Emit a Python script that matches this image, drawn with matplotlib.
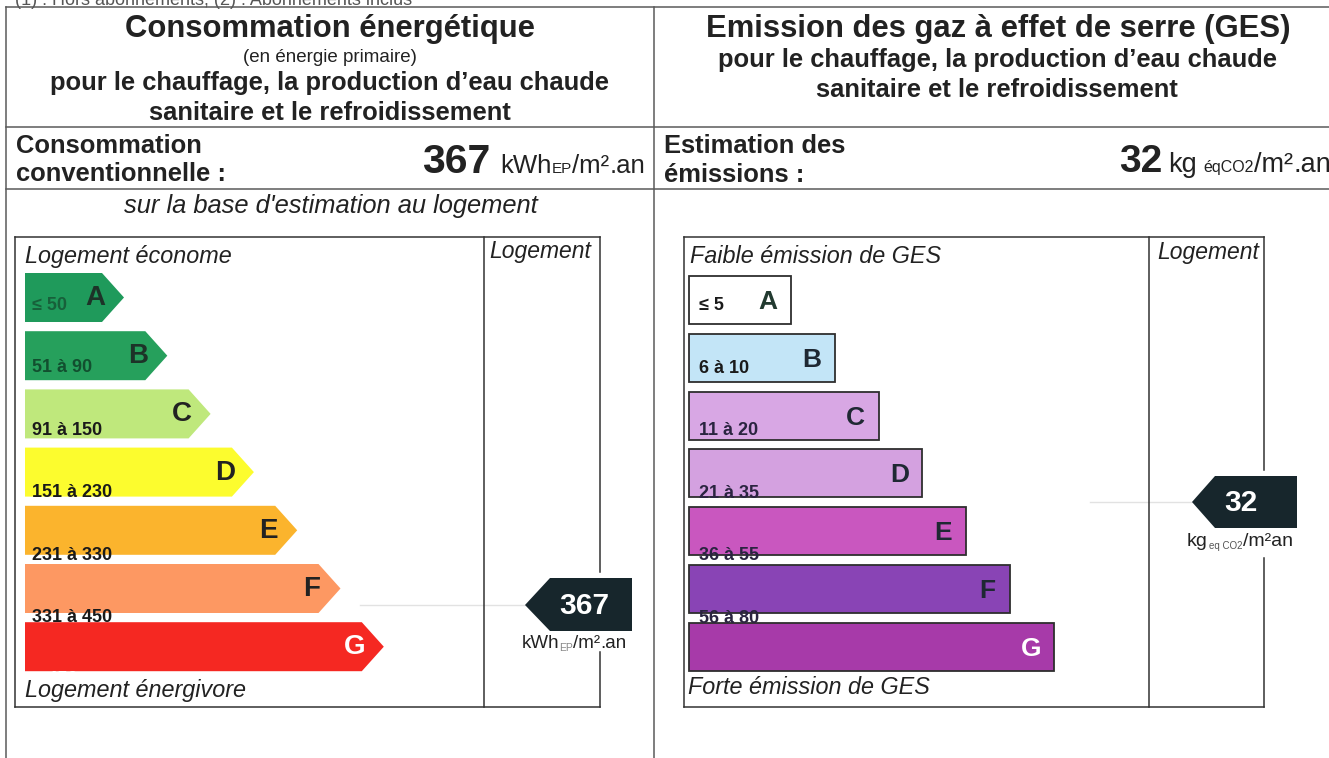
import matplotlib
matplotlib.use("Agg")
import matplotlib.pyplot as plt
from matplotlib.patches import Polygon, Rectangle

plt.rcParams['font.family'] = ['Liberation Sans', 'DejaVu Sans']

# ---------------- data ----------------
energy_classes = ['A', 'B', 'C', 'D', 'E', 'F', 'G']
energy_ranges = ['≤ 50', '51 à 90', '91 à 150', '151 à 230', '231 à 330', '331 à 450', '> 450']
energy_colors = ['#1f9a5b', '#26a05c', '#bfe87c', '#fcfc2e', '#fbb42d', '#fd9862', '#f52822']
energy_range_colors = ['#17603a', '#124f2f', '#1a1a1a', '#1a1a1a', '#1a1a1a', '#1a1a1a', '#ffffff']
energy_letter_colors = ['#1d3328', '#1d3328', '#222222', '#222222', '#222222', '#222222', '#ffffff']
energy_value = 367

ges_classes = ['A', 'B', 'C', 'D', 'E', 'F', 'G']
ges_ranges = ['≤ 5', '6 à 10', '11 à 20', '21 à 35', '36 à 55', '56 à 80', '> 80']
ges_colors = ['#ffffff', '#c3e5f7', '#d8a7e4', '#d4a1e0', '#c957bf', '#8944b5', '#a73aa9']
ges_range_colors = ['#1a1a1a', '#1a1a1a', '#2a2440', '#2a2440', '#2a2440', '#2a2440', '#ffffff']
ges_letter_colors = ['#223a30', '#1f2833', '#1f2833', '#1f2833', '#1f2833', '#1f2833', '#ffffff']
ges_value = 32

# ---------------- figure ----------------
W, H = 1329, 758
fig = plt.figure(figsize=(W / 100, H / 100), dpi=100)
ax = fig.add_axes([0, 0, 1, 1])
ax.set_xlim(0, W)
ax.set_ylim(H, 0)
ax.axis('off')
renderer = fig.canvas.get_renderer()

TXT = '#222222'
LINE = '#5a5a5a'


def chain(x, y, pieces, ha='left', zorder=4):
    """Place consecutive text pieces on one baseline."""
    texts = []
    cx = x
    for s, kw, dy, gap in pieces:
        cx += gap
        t = ax.text(cx, y + dy, s, va='baseline', ha='left', zorder=zorder, **kw)
        bb = t.get_window_extent(renderer)
        cx += bb.width
        texts.append(t)
    if ha in ('right', 'center'):
        total = cx - x
        shift = total if ha == 'right' else total / 2
        for t in texts:
            px, py = t.get_position()
            t.set_position((px - shift, py))
    return texts


# top footnote (cut off by the page edge)
ax.text(15, 5, '(1) : Hors abonnements, (2) : Abonnements inclus', fontsize=13,
        color='#555555', va='baseline')

# table lines
for y in (7, 127, 189):
    ax.plot([6, W], [y, y], color=LINE, lw=1.1)
ax.plot([6, 6], [7, H], color=LINE, lw=1.1)
ax.plot([654, 654], [7, H], color=LINE, lw=1.1)

# ---- left header
ax.text(330, 37, 'Consommation énergétique', fontsize=22.3, fontweight='bold',
        color=TXT, ha='center', va='baseline')
ax.text(330, 62, '(en énergie primaire)', fontsize=13.5, color=TXT, ha='center', va='baseline')
ax.text(330, 90, 'pour le chauffage, la production d\u2019eau chaude', fontsize=18.4,
        fontweight='bold', color=TXT, ha='center', va='baseline')
ax.text(330, 120, 'sanitaire et le refroidissement', fontsize=18.4,
        fontweight='bold', color=TXT, ha='center', va='baseline')

# ---- right header
ax.text(998, 37, 'Emission des gaz à effet de serre (GES)', fontsize=22.3, fontweight='bold',
        color=TXT, ha='center', va='baseline')
ax.text(997, 67, 'pour le chauffage, la production d\u2019eau chaude', fontsize=18.4,
        fontweight='bold', color=TXT, ha='center', va='baseline')
ax.text(997, 97, 'sanitaire et le refroidissement', fontsize=18.4,
        fontweight='bold', color=TXT, ha='center', va='baseline')

# ---- value rows
ax.text(16, 153, 'Consommation', fontsize=18.4, fontweight='bold', color=TXT, va='baseline')
ax.text(16, 181, 'conventionnelle :', fontsize=18.4, fontweight='bold', color=TXT, va='baseline')
chain(645, 173, [
    (str(energy_value), dict(fontsize=29.5, fontweight='bold', color=TXT), 0, 0),
    ('kWh', dict(fontsize=18.5, color=TXT), 0, 10),
    ('EP', dict(fontsize=11, color=TXT), 0, 0),
    ('/m²', dict(fontsize=18.5, color=TXT), 0, 0),
    ('.an', dict(fontsize=18.5, color=TXT), 0, 0),
], ha='right')
ax.text(331, 213, "sur la base d'estimation au logement", fontsize=18.4, style='italic',
        color=TXT, ha='center', va='baseline')

ax.text(664, 153, 'Estimation des', fontsize=18.4, fontweight='bold', color=TXT, va='baseline')
ax.text(664, 182, 'émissions :', fontsize=18.4, fontweight='bold', color=TXT, va='baseline')
chain(1331, 172, [
    (str(ges_value), dict(fontsize=28, fontweight='bold', color=TXT), 0, 0),
    ('kg', dict(fontsize=19.5, color=TXT), 0, 6),
    ('éqCO2', dict(fontsize=11.5, color=TXT), 0, 7),
    ('/m²', dict(fontsize=19.5, color=TXT), 0, 0),
    ('.an', dict(fontsize=19.5, color=TXT), 0, 0),
], ha='right')

BOX = '#333333'


def box(x0, x1, xd, y0, y1, gap):
    ax.plot([x0, x1], [y0, y0], color=BOX, lw=1.1)
    ax.plot([x0, x1], [y1, y1], color=BOX, lw=1.1)
    ax.plot([x0, x0], [y0, y1], color=BOX, lw=1.1)
    ax.plot([xd, xd], [y0, y1], color=BOX, lw=1.1)
    ax.plot([x1, x1], [y0, gap[0]], color=BOX, lw=1.1)
    ax.plot([x1, x1], [gap[1], y1], color=BOX, lw=1.1)


# ---------------- energy chart ----------------
box(15, 600, 484, 237, 707, (572, 652))
ax.text(25, 263, 'Logement économe', fontsize=16.8, style='italic', color=TXT, va='baseline')
ax.text(25, 697, 'Logement énergivore', fontsize=16.8, style='italic', color=TXT,
        va='baseline', zorder=6)
ax.text(489, 258, 'Logement', fontsize=16.5, style='italic', color=TXT, va='baseline')

for i, (cls, rng, col) in enumerate(zip(energy_classes, energy_ranges, energy_colors)):
    top = 273 + i * 58.2
    bot = top + 49
    body = 102 + i * 43.3
    tip = body + 22
    ax.add_patch(Polygon([(25, top), (body, top), (tip, (top + bot) / 2), (body, bot), (25, bot)],
                         closed=True, facecolor=col, edgecolor='none', zorder=2))
    ax.text(body - 7, top + 25, cls, fontsize=20, fontweight='bold', color=energy_letter_colors[i],
            ha='center', va='center', zorder=4)
    ax.text(32, top + 37 + i * 4.2, rng, fontsize=13, fontweight='bold',
            color=energy_range_colors[i], va='baseline', zorder=4)

# faint guide line + arrow
ey = 605
ax.plot([360, 525], [ey, ey], color='#e2e2e2', lw=1.0, zorder=1)
ax.add_patch(Polygon([(525, ey), (550, 578), (632, 578), (632, 631), (550, 631)],
                     closed=True, facecolor='#17262c', edgecolor='none', zorder=3))
ax.text(584, ey + 1, str(energy_value), fontsize=21.5, fontweight='bold', color='white',
        ha='center', va='center', zorder=4)
chain(522, 648, [
    ('kWh', dict(fontsize=13.5, color=TXT), 0, 0),
    ('EP', dict(fontsize=7.5, color='#888888'), 3, 0),
    ('/m²', dict(fontsize=13.5, color=TXT), 0, 0),
    ('.an', dict(fontsize=13.5, color=TXT), 0, 0),
])

# ---------------- GES chart ----------------
box(684, 1264, 1149, 237, 707, (470, 558))
ax.text(690, 263, 'Faible émission de GES', fontsize=16.8, style='italic', color=TXT, va='baseline')
ax.text(688, 694, 'Forte émission de GES', fontsize=16.8, style='italic', color=TXT,
        va='baseline', zorder=6)
ax.text(1157, 259, 'Logement', fontsize=16.5, style='italic', color=TXT, va='baseline')

for i, (cls, rng, col) in enumerate(zip(ges_classes, ges_ranges, ges_colors)):
    top = 276 + i * 57.8
    h = 48
    right = 791 + i * 43.8
    ax.add_patch(Rectangle((689, top), right - 689, h, facecolor=col, edgecolor='#2e2e2e',
                           lw=1.3, zorder=2))
    ax.text(right - 23, top + 26, cls, fontsize=19, fontweight='bold', color=ges_letter_colors[i],
            ha='center', va='center', zorder=4)
    ax.text(699, top + 34 + i * 4.8, rng, fontsize=13, fontweight='bold',
            color=ges_range_colors[i], va='baseline', zorder=4)

gy = 502
ax.plot([1090, 1192], [gy, gy], color='#e2e2e2', lw=1.0, zorder=1)
ax.add_patch(Polygon([(1192, gy), (1215, 476), (1297, 476), (1297, 528), (1215, 528)],
                     closed=True, facecolor='#17262c', edgecolor='none', zorder=3))
ax.text(1241, gy + 1, str(ges_value), fontsize=21.5, fontweight='bold', color='white',
        ha='center', va='center', zorder=4)
chain(1187, 546, [
    ('kg', dict(fontsize=14, color=TXT), 0, 0),
    ('eq CO2', dict(fontsize=7, color='#555555'), 3, 1),
    ('/m²an', dict(fontsize=14, color=TXT), 0, 1),
])

fig.savefig('out.png', dpi=100)
